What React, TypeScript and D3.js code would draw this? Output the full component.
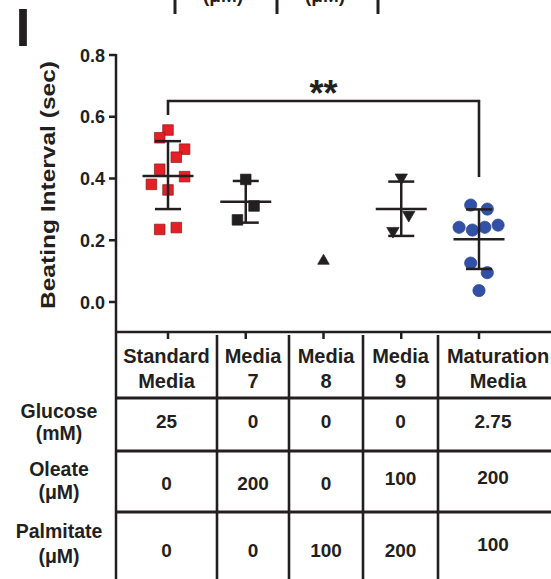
import React from 'react';
import * as d3 from 'd3';

// groups on the x axis
const groups = ['Standard Media', 'Media 7', 'Media 8', 'Media 9', 'Maturation Media'];

// beating interval (sec) per well
const standardValues = [0.557, 0.532, 0.495, 0.469, 0.43, 0.406, 0.381, 0.363, 0.235, 0.241];
const media7Values = [0.397, 0.311, 0.266];
const media8Values = [0.133];
const media9Values = [0.403, 0.282, 0.23];
const maturationValues = [0.314, 0.301, 0.242, 0.233, 0.242, 0.249, 0.126, 0.095, 0.037];

// scatter lanes used by the dot plot to keep points apart
const standardLanes = [0, -1, 2, 1, -1, 2, -2, 0, -1, 1];
const media7Lanes = [0, 1, -1];
const media8Lanes = [0];
const media9Lanes = [0, 0.9, -1];
const maturationLanes = [-1, 1, -2.4, -0.8, 0.7, 2.3, -1, 1, 0];

// mean and SD limits
const means = [0.408, 0.325, 0.133, 0.301, 0.203];
const sdHigh = [0.521, 0.392, null, 0.39, 0.3];
const sdLow = [0.301, 0.257, null, 0.214, 0.107];

const yTicks = [0, 0.2, 0.4, 0.6, 0.8];

// table under the plot
const headerLines = [['Standard', 'Media'], ['Media', '7'], ['Media', '8'], ['Media', '9'], ['Maturation', 'Media']];
const rowLabels = [['Glucose', '(mM)'], ['Oleate', '(\u03bcM)'], ['Palmitate', '(\u03bcM)']];
const glucose = ['25', '0', '0', '0', '2.75'];
const oleate = ['0', '200', '0', '100', '200'];
const palmitate = ['0', '0', '100', '200', '100'];

const INK = '#231f20';
const FONT = '"Liberation Sans", Arial, Helvetica, sans-serif';
const MICRO = '(\u03bcM)';

const App = () => {
  const axisX = 116;
  const y = d3.scaleLinear().domain([0, 0.8]).range([302, 55]);
  const x = d3.scalePoint().domain(groups).range([168, 479]);
  const lane = d3.scaleLinear().domain([0, 1]).range([0, 8.3]);

  const series = [
    { values: standardValues, lanes: standardLanes, shape: 'square', fill: '#e41f26', stroke: '#8a1c1c' },
    { values: media7Values, lanes: media7Lanes, shape: 'square', fill: INK, stroke: INK },
    { values: media8Values, lanes: media8Lanes, shape: 'up', fill: INK, stroke: INK },
    { values: media9Values, lanes: media9Lanes, shape: 'down', fill: INK, stroke: INK },
    { values: maturationValues, lanes: maturationLanes, shape: 'circle', fill: '#3150a6', stroke: '#2a4590' },
  ];

  const sym = (shape: string) => {
    if (shape === 'square') return d3.symbol().type(d3.symbolSquare).size(112)();
    if (shape === 'circle') return d3.symbol().type(d3.symbolCircle).size(118)();
    return d3.symbol().type(d3.symbolTriangle).size(shape === 'up' ? 58 : 66)();
  };

  // table layout
  const colEdges = [axisX, 217, 289, 363, 438, 558];
  const rowEdges = [332, 398, 451, 512, 579];
  const rowBase = [428, 490, 557];
  const rows = [glucose, oleate, palmitate];
  const labelBase = [[418, 440], [476, 499], [538, 563]];

  return (
    <svg width={551} height={579} style={{ position: 'absolute', left: 0, top: 0, background: '#fff' }}
      fontFamily={FONT} fontWeight="bold" fill={INK}>
      {/* bits of the panel above */}
      {[175, 277, 378].map((lx) => (
        <line key={lx} x1={lx} x2={lx} y1={0} y2={14} stroke={INK} strokeWidth={3} />
      ))}
      {[223, 325].map((tx) => (
        <text key={tx} x={tx} y={2} fontSize={19} textAnchor="middle">{MICRO}</text>
      ))}
      <text x={15.5} y={46} fontSize={54}>I</text>

      {/* y axis */}
      <line x1={axisX} x2={axisX} y1={y(0.8) - 1} y2={579} stroke={INK} strokeWidth={2.5} />
      {yTicks.map((t) => (
        <g key={t}>
          <line x1={axisX - 7} x2={axisX} y1={y(t)} y2={y(t)} stroke={INK} strokeWidth={2.5} />
          <text x={axisX - 11} y={y(t) + 6.5} fontSize={18} textAnchor="end">{d3.format('.1f')(t)}</text>
        </g>
      ))}
      <text transform={`translate(55,${185}) rotate(-90)`} fontSize={20} textAnchor="middle"
        textLength={248} lengthAdjust="spacingAndGlyphs">Beating Interval (sec)</text>

      {/* significance bracket */}
      <path d={`M${x(groups[0])},115V101H${x(groups[4])}V177`} fill="none" stroke={INK} strokeWidth={2.6} />
      <text x={(x(groups[0])! + x(groups[4])!) / 2} y={106} fontSize={36} textAnchor="middle">**</text>

      {/* points */}
      {series.map((s, gi) => (
        <g key={groups[gi]}>
          {s.values.map((v, i) => (
            <path key={i} d={sym(s.shape) as string}
              transform={`translate(${x(groups[gi])! + lane(s.lanes[i])},${y(v)})${s.shape === 'down' ? ' rotate(180)' : ''}`}
              fill={s.fill} stroke={s.stroke} strokeWidth={0.7} />
          ))}
        </g>
      ))}

      {/* mean and SD */}
      {groups.map((g, gi) => {
        const cx = x(g)!;
        const hi = sdHigh[gi];
        const lo = sdLow[gi];
        if (hi === null || lo === null) return null;
        return (
          <g key={g} stroke={INK} strokeWidth={2.5}>
            <line x1={cx} x2={cx} y1={y(hi)} y2={y(lo)} />
            <line x1={cx - 13} x2={cx + 13} y1={y(hi)} y2={y(hi)} />
            <line x1={cx - 13} x2={cx + 13} y1={y(lo)} y2={y(lo)} />
            <line x1={cx - 25.5} x2={cx + 25.5} y1={y(means[gi])} y2={y(means[gi])} />
          </g>
        );
      })}

      {/* x axis / table top */}
      <line x1={axisX} x2={558} y1={332} y2={332} stroke={INK} strokeWidth={2.5} />
      {groups.map((g) => (
        <line key={g} x1={x(g)} x2={x(g)} y1={332} y2={339} stroke={INK} strokeWidth={2.5} />
      ))}
      {colEdges.slice(1, 5).map((cx) => (
        <line key={cx} x1={cx} x2={cx} y1={335} y2={579} stroke={INK} strokeWidth={2.6} />
      ))}
      {rowEdges.slice(1, 4).map((ry) => (
        <line key={ry} x1={axisX} x2={558} y1={ry} y2={ry} stroke={INK} strokeWidth={3} />
      ))}

      {headerLines.map((lines, ci) => {
        const cx = ci === 4 ? 498 : (colEdges[ci] + colEdges[ci + 1]) / 2;
        return (
          <g key={ci}>
            <text x={cx} y={363} fontSize={20} textAnchor="middle">{lines[0]}</text>
            <text x={cx} y={388} fontSize={20} textAnchor="middle">{lines[1]}</text>
          </g>
        );
      })}

      {rowLabels.map((lines, ri) => (
        <g key={ri}>
          <text x={59} y={labelBase[ri][0]} fontSize={19.5} textAnchor="middle">{lines[0]}</text>
          <text x={59} y={labelBase[ri][1]} fontSize={19.5} textAnchor="middle">{lines[1]}</text>
        </g>
      ))}

      {rows.map((vals, ri) => vals.map((v, ci) => {
        const cx = ci === 4 ? 493 : (colEdges[ci] + colEdges[ci + 1]) / 2;
        const lift = ci === 4 && ri > 0 ? 6 : ci === 3 && ri === 1 ? 5 : 0;
        return (
          <text key={`${ri}-${ci}`} x={cx} y={rowBase[ri] - lift} fontSize={19} textAnchor="middle">{v}</text>
        );
      }))}
    </svg>
  );
};

export default App;
